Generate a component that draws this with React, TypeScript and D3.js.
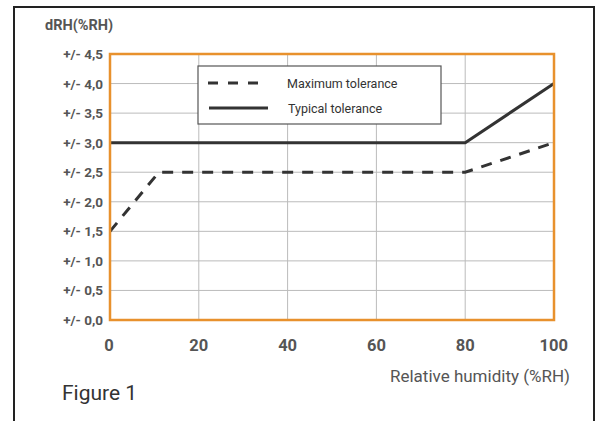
import React from "react";
import * as d3 from "d3";

const xTicks = [0, 20, 40, 60, 80, 100];
const yTicks = [0, 0.5, 1, 1.5, 2, 2.5, 3, 3.5, 4, 4.5];
const yTickLabels = ["+/- 0,0", "+/- 0,5", "+/- 1,0", "+/- 1,5", "+/- 2,0", "+/- 2,5", "+/- 3,0", "+/- 3,5", "+/- 4,0", "+/- 4,5"];
const maxX = [0, 11, 80, 100];
const maxY = [1.5, 2.5, 2.5, 3.0];
const typX = [0, 80, 100];
const typY = [3.0, 3.0, 4.0];
const legendLabels = ["Maximum tolerance", "Typical tolerance"];

export default function App() {
  const W = 600, H = 421;
  const left = 110, right = 554, top = 54, bottom = 320;
  const x = d3.scaleLinear().domain([0, 100]).range([left, right]);
  const y = d3.scaleLinear().domain([0, 4.5]).range([bottom, top]);
  const line = d3.line<[number, number]>().x(d => x(d[0])).y(d => y(d[1]));
  const maxPts = maxX.map((v, i) => [v, maxY[i]] as [number, number]);
  const typPts = typX.map((v, i) => [v, typY[i]] as [number, number]);
  const font = "Roboto, 'Noto Sans', sans-serif";
  return (
    <svg width={W} height={H} style={{ position: "absolute", left: 0, top: 0 }}>
      <rect x={0} y={0} width={W} height={H} fill="#fff" />
      <path d={`M14,${H + 5} V7 H594 V${H + 5}`} fill="none" stroke="#222" strokeWidth={2} />
      {xTicks.slice(1, -1).map(t => (
        <line key={"gx" + t} x1={x(t)} x2={x(t)} y1={top} y2={bottom} stroke="#bbb" strokeWidth={1} />
      ))}
      {yTicks.slice(1, -1).map(t => (
        <line key={"gy" + t} x1={left} x2={right} y1={y(t)} y2={y(t)} stroke="#bbb" strokeWidth={1} />
      ))}
      <path d={line(maxPts) || ""} fill="none" stroke="#333" strokeWidth={3} strokeDasharray="11,9" />
      <path d={line(typPts) || ""} fill="none" stroke="#333" strokeWidth={3} />
      <rect x={left} y={top} width={right - left} height={bottom - top} fill="none" stroke="#e8912d" strokeWidth={2.5} />
      <rect x={198} y={66} width={243} height={58} fill="#fff" stroke="#555" strokeWidth={1.2} />
      <line x1={208} x2={268} y1={83} y2={83} stroke="#333" strokeWidth={3} strokeDasharray="10,10" />
      <line x1={209} x2={268} y1={108} y2={108} stroke="#333" strokeWidth={3} />
      <text x={287} y={87.5} fontFamily={font} fontSize={12.5} fill="#333">{legendLabels[0]}</text>
      <text x={288} y={113} fontFamily={font} fontSize={12.5} fill="#333">{legendLabels[1]}</text>
      {yTicks.map((t, i) => (
        <text key={"yl" + t} x={103} y={y(t) + 5} textAnchor="end" fontFamily={font} fontSize={13.5} fontWeight="bold" fill="#555">{yTickLabels[i]}</text>
      ))}
      {xTicks.map(t => (
        <text key={"xl" + t} x={t === 100 ? 568 : t === 0 ? x(t) - 1 : x(t)} y={351} textAnchor={t === 100 ? "end" : "middle"} fontFamily={font} fontSize={16.5} fontWeight="bold" fill="#555">{t}</text>
      ))}
      <text x={45} y={30} fontFamily={font} fontSize={14.5} fontWeight="bold" fill="#555">dRH(%RH)</text>
      <text x={570} y={382} textAnchor="end" fontFamily={font} fontSize={17} fill="#555">Relative humidity (%RH)</text>
      <text x={62} y={400} fontFamily={font} fontSize={21} fill="#333">Figure 1</text>
    </svg>
  );
}
